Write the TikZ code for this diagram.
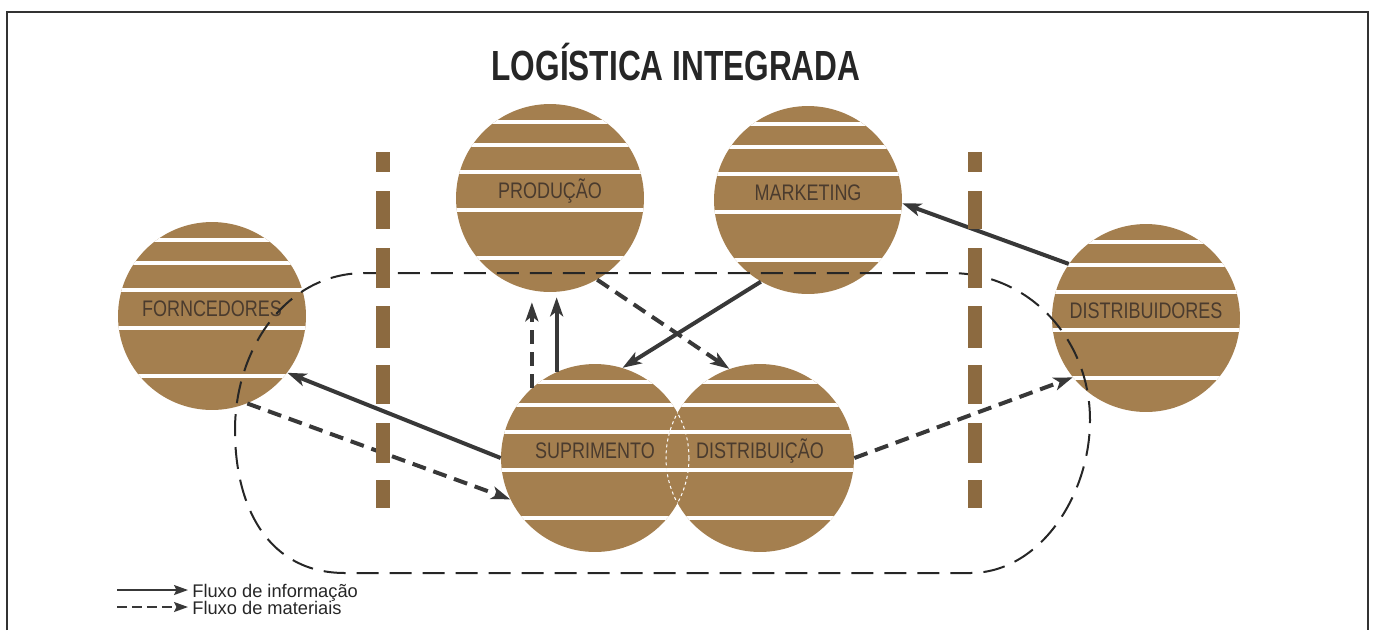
\documentclass[tikz,border=0pt]{standalone}
\usepackage{fontspec}
\setmainfont{Liberation Sans}
\newfontfamily\titlefont[FakeStretch=0.75]{Liberation Sans}
\newfontfamily\ballfont[FakeStretch=0.8]{Liberation Sans}
\usetikzlibrary{arrows.meta,calc}

\definecolor{ballbrown}{HTML}{A47F4F}
\definecolor{barbrown}{HTML}{8C6A40}
\definecolor{inkgray}{HTML}{383838}
\definecolor{labelink}{HTML}{4A3B2E}

\tikzset{
  ball/.style={circle, fill=ballbrown, minimum size=3.76cm, inner sep=0pt},
  stripe/.style={white, line width=0.09cm},
  balltext/.style={font=\ballfont\fontsize{12.8}{14}\selectfont, text=labelink},
  info/.style={inkgray, line width=0.08cm, -{Stealth[length=0.38cm,width=0.26cm,inset=0.1cm]}},
  mat/.style={info, dash pattern=on 0.28cm off 0.16cm},
  loopline/.style={black!85, line width=0.04cm, dash pattern=on 0.44cm off 0.22cm},
  lens/.style={white, line width=0.02cm, dash pattern=on 0.06cm off 0.06cm},
  legendinfo/.style={inkgray, line width=0.035cm, -{Stealth[length=0.28cm,width=0.2cm,inset=0.05cm]}},
  legendmat/.style={legendinfo, dash pattern=on 0.2cm off 0.1cm},
  legendtext/.style={font=\fontsize{10.4}{12}\selectfont, text=black!85, inner sep=0pt},
}

% striped ball: name, x, y, label
\newcommand{\stripeball}[4]{%
  \node[ball] (#1) at (#2,#3) {};
  \begin{scope}
    \clip (#1) circle[radius=94];
    \foreach \dy in {-76,-53,-26,12,60}
      \draw[stripe] ({#2-100},{#3+\dy}) -- ({#2+100},{#3+\dy});
  \end{scope}
  \node[balltext] (#1l) at (#2,{#3-7}) {#4};
}

\begin{document}
\begin{tikzpicture}[x=0.02cm, y=-0.02cm]
  \useasboundingbox (0,0) rectangle (1376,630);

  % frame
  \draw[line width=0.05cm, black!80] (7,630) -- (7,12) -- (1368,12) -- (1368,630);

  % title
  \node[font=\titlefont\bfseries\fontsize{24}{28}\selectfont, text=black!85, anchor=base] (title) at (676,80) {LOGÍSTICA INTEGRADA};

  % balls
  \stripeball{forn}{212}{316}{FORNCEDORES}
  \stripeball{prod}{550}{198}{PRODUÇÃO}
  \stripeball{mkt}{808}{200}{MARKETING}
  \stripeball{distr}{1146}{318}{DISTRIBUIDORES}
  \stripeball{supr}{595}{458}{SUPRIMENTO}
  \stripeball{distb}{760}{458}{DISTRIBUIÇÃO}

  % overlap of the two lower balls
  \begin{scope}
    \clip (distb) circle[radius=94];
    \draw[lens] (supr) circle[radius=94];
  \end{scope}
  \begin{scope}
    \clip (supr) circle[radius=94];
    \draw[lens] (distb) circle[radius=94];
  \end{scope}

  % dashed loop
  \draw[loopline] (365,273) -- (950,273)
    .. controls (1030,273) and (1090,340) .. (1090,420)
    .. controls (1090,495) and (1040,573) .. (970,573)
    -- (345,573)
    .. controls (270,573) and (235,510) .. (235,430)
    .. controls (235,350) and (285,273) .. (365,273);

  % flows
  \draw[info] (supr.180) -- (forn.-37);
  \draw[mat] (forn.-68) -- (supr.-154);
  \draw[mat, shorten >=0.2cm] (supr.132) -- (supr.132 |- prod.south);
  \draw[info, shorten >=0.1cm] (supr.114) -- (supr.114 |- prod.south);
  \draw[mat] (prod.-60) -- (distb.109);
  \draw[info] (mkt.-120) -- (supr.73);
  \draw[info] (distr.145) -- (mkt.-2);
  \draw[mat] (distb.0) -- (distr.-141);

  % dashed bars
  \foreach \ytop/\ybot in {152/172,191/229,248/288,306/348,365/404,423/463,480/508} {
    \fill[barbrown] (376,\ytop) rectangle (390,\ybot);
    \fill[barbrown] (968,\ytop) rectangle (982,\ybot);
  }

  % legend
  \coordinate (infoA) at (117,590);
  \coordinate (infoB) at (188,590);
  \coordinate (matA) at (117,607);
  \coordinate (matB) at (188,607);
  \draw[legendinfo] (infoA) -- (infoB);
  \draw[legendmat] (matA) -- (matB);
  \node[legendtext, anchor=base west] (infotext) at (192,597) {Fluxo de informação};
  \node[legendtext, anchor=base west] (mattext) at (192,614) {Fluxo de materiais};
\end{tikzpicture}
\end{document}
